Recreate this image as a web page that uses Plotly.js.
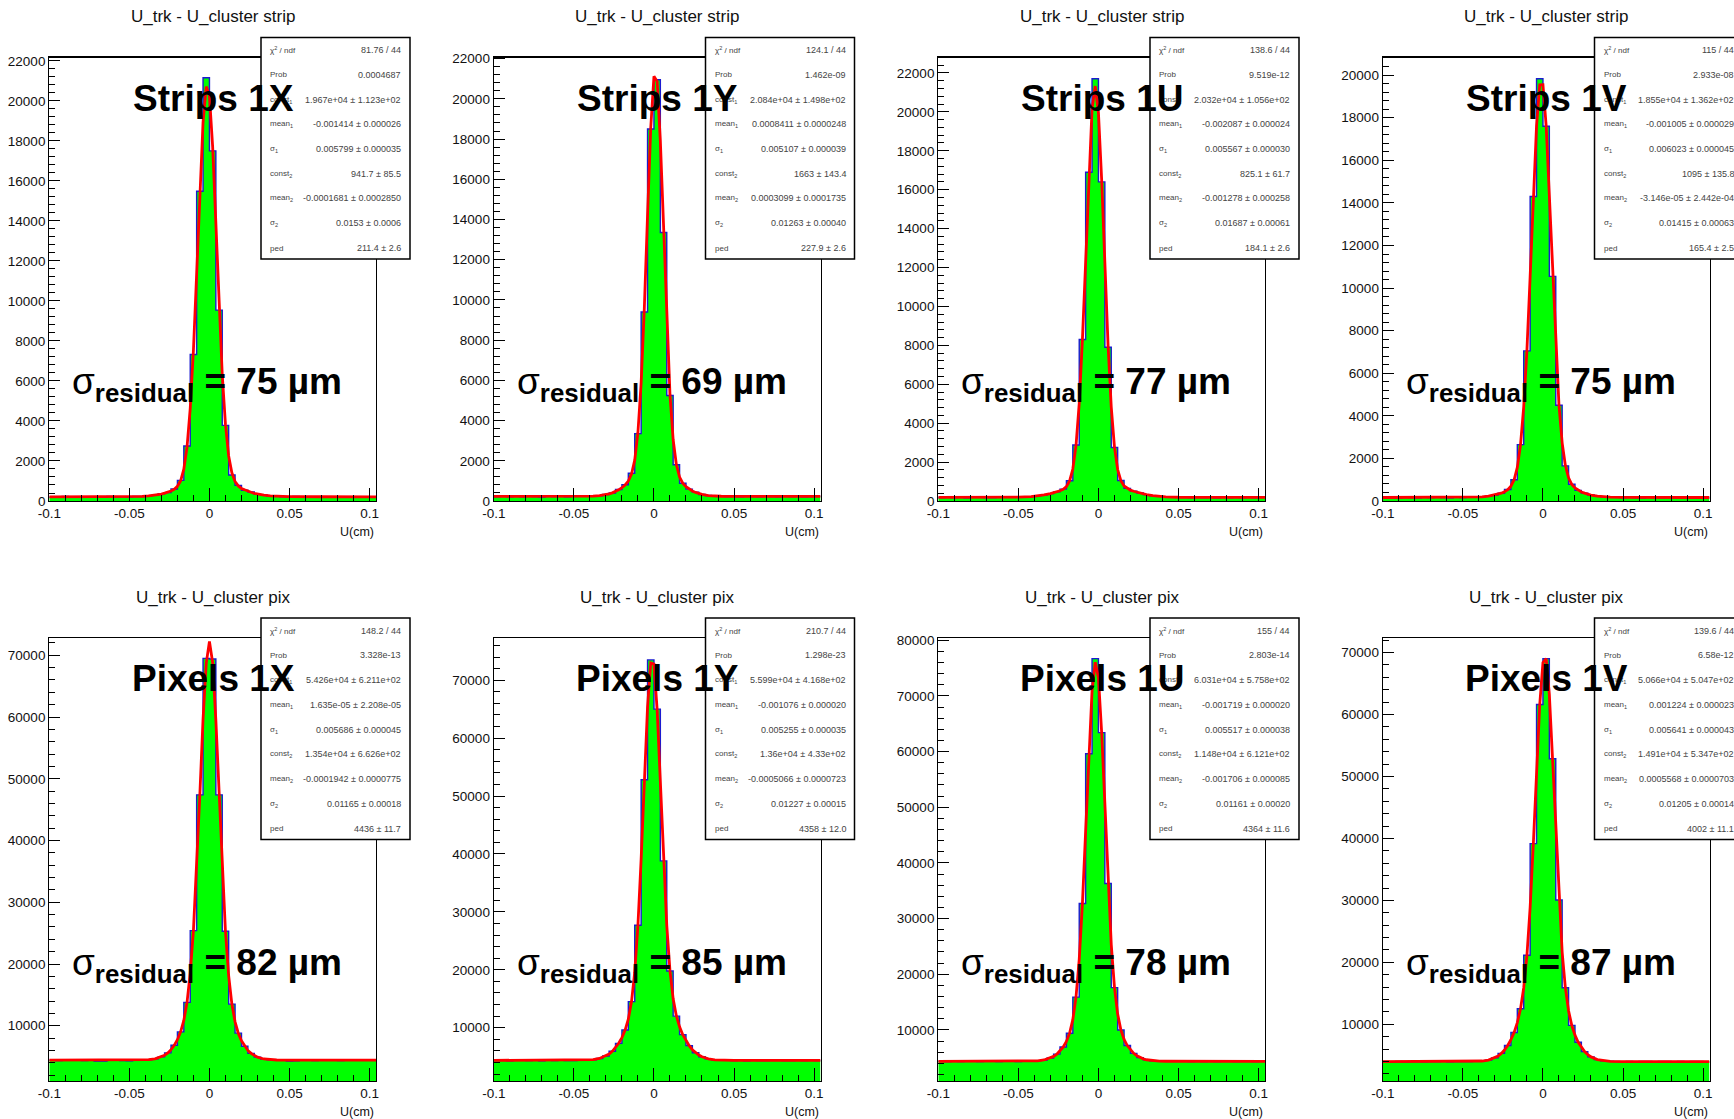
<!DOCTYPE html>
<html>
<head>
<meta charset="utf-8">
<script src="https://cdn.plot.ly/plotly-3.0.1.min.js"></script>
<style>
  html, body { margin: 0; padding: 0; background: #fff; overflow: hidden; }
  #chart { width: 1734px; height: 1119px; }
</style>
</head>
<body>
<div id="chart"></div>
<script>
// ---------------- DATA ----------------
// Histogram binning: 51 bins of width 0.004 starting at -0.1 (U in cm)
const binStart = -0.1;
const binWidth = 0.004;

const panelTitles = ["U_trk - U_cluster strip","U_trk - U_cluster strip","U_trk - U_cluster strip","U_trk - U_cluster strip",
                     "U_trk - U_cluster pix","U_trk - U_cluster pix","U_trk - U_cluster pix","U_trk - U_cluster pix"];
const panelLabels = ["Strips 1X","Strips 1Y","Strips 1U","Strips 1V","Pixels 1X","Pixels 1Y","Pixels 1U","Pixels 1V"];
const residuals = ["75","69","77","75","82","85","78","87"];

const xTickVals = [-0.1, -0.05, 0, 0.05, 0.1];
const xTickText = ["-0.1", "-0.05", "0", "0.05", "0.1"];

// bin contents (51 bins each)
const hStrips1X = [205,190,225,200,215,195,185,210,190,230,205,215,200,225,
  225,260,280,360,420,600,1030,2750,7320,15480,21150,17500,9540,3780,1300,780,540,450,330,300,250,240,
  215,200,225,190,210,200,185,215,205,195,220,200,210,195,200];
const hStrips1Y = [220,235,215,240,210,230,225,200,235,220,245,215,230,240,
  230,250,262,320,400,570,810,1380,3350,9400,18500,20950,13350,5250,1800,880,590,440,325,275,245,235,
  225,240,215,230,220,205,235,225,215,240,220,230,210,225,235];
const hStrips1U = [180,190,175,195,170,185,200,175,180,190,185,195,200,215,
  225,265,305,380,470,610,1040,2880,8300,16900,21700,16400,7900,2750,1050,650,500,410,330,270,240,210,
  200,190,185,175,190,180,185,170,190,180,185,175,190,180,185];
const hStrips1V = [160,170,155,175,165,150,170,160,175,165,155,170,165,175,
  180,195,225,280,365,540,1000,2650,7050,14300,19830,17600,10550,4500,1650,790,500,370,280,225,195,180,
  170,160,175,165,155,170,165,160,175,165,160,170,155,165,170];
const hPixels1X = [4450,4380,4520,4410,4460,4350,4430,4300,4290,4470,4420,4380,4330,4440,
  4460,4500,4640,4950,5600,6830,9000,13780,25400,47400,69500,69400,47400,25300,13500,8800,6670,5520,4910,4620,4500,4460,
  4430,4300,4310,4450,4420,4380,4460,4400,4430,4370,4450,4420,4390,4440,4430];
const hPixels1Y = [4350,4380,4300,4360,4400,4330,4370,4290,4360,4340,4380,4310,4350,4370,
  4400,4480,4690,5110,5930,7300,9600,14500,27700,52800,73500,65000,38800,19800,12000,8800,6900,5680,4980,4620,4460,4390,
  4370,4340,4360,4300,4380,4350,4330,4370,4360,4310,4350,4380,4340,4360,4350];
const hPixels1U = [4370,4340,4380,4300,4360,4390,4330,4350,4370,4310,4360,4380,4340,4370,
  4390,4450,4600,4950,5650,6920,9400,15900,32700,59600,76700,63400,36300,17600,10000,7190,5790,5030,4640,4470,4400,4370,
  4360,4350,4380,4330,4370,4300,4360,4340,4370,4350,4330,4380,4360,4340,4360];
const hPixels1V = [4010,3980,4030,3950,4000,4020,3970,4010,3990,4030,3960,4000,4020,4010,
  4030,4090,4240,4600,5320,6600,8700,12530,21150,39160,61600,69000,52860,30070,15900,9840,7120,5600,4750,4320,4120,4040,
  4010,3990,4020,3980,4000,4030,3960,4010,4000,3980,4020,3990,4010,4000,3990];

// fitted curve
const fitX = [-0.1,-0.07,-0.05,-0.042,-0.038,-0.034,
  -0.030,-0.028,-0.026,-0.024,-0.022,-0.020,-0.018,-0.016,-0.014,-0.012,-0.010,-0.008,-0.006,-0.004,-0.002,
  0,0.002,0.004,0.006,0.008,0.010,0.012,0.014,0.016,0.018,0.020,0.022,0.024,0.026,0.028,0.030,
  0.034,0.038,0.042,0.05,0.07,0.104];
const fStrips1X = [211,212,217,232,254,291,
  348,391,436,501,587,734,1008,1594,2690,4628,7534,11360,15443,18928,20712,
  20246,17708,13842,9801,6299,3829,2254,1411,966,754,628,559,481,436,385,348,
  291,254,232,217,212,211];
const fStrips1Y = [228,228,230,235,244,266,
  315,355,406,473,557,661,797,991,1339,2030,3407,5867,9598,14204,18550,
  21117,20868,17908,13399,8854,5312,3046,1803,1190,883,709,587,497,425,369,327,
  271,246,235,229,228,228];
const fStrips1U = [184,185,196,228,261,309,
  377,419,466,525,604,744,1029,1643,2859,5019,8306,12508,16848,20154,21326,
  19948,16515,12145,8008,4828,2768,1617,1042,776,643,557,502,453,405,367,328,
  273,236,213,192,184,184];
const fStrips1V = [165,165,168,178,195,226,
  281,319,368,439,534,698,999,1579,2643,4436,7084,10541,14318,17616,19547,
  19552,17629,14349,10589,7163,4506,2731,1669,1086,780,609,505,424,368,319,281,
  226,195,178,168,165,165];
const fPixels1X = [4436,4436,4437,4455,4504,4638,
  4951,5220,5601,6118,6826,7743,9007,10862,13781,18524,25416,35419,47396,59646,68726,
  72234,68826,59506,47386,35179,25266,18119,13511,10632,8792,7568,6666,6003,5521,5160,4910,
  4616,4498,4455,4437,4436,4436];
const fPixels1Y = [4358,4358,4362,4398,4484,4686,
  5114,5462,5929,6537,7311,8293,9590,11473,14505,19580,27678,39106,52771,65344,72990,
  72777,64872,52174,38802,27665,19847,14986,12040,10152,8798,7742,6892,6201,5677,5276,4977,
  4620,4457,4390,4360,4358,4358];
const fPixels1U = [4364,4364,4370,4392,4450,4604,
  4952,5247,5649,6197,6923,7924,9413,11841,15944,22659,32694,45718,59584,70911,76060,
  73241,63435,49880,36339,25324,17645,12847,10014,8306,7188,6395,5793,5354,5030,4800,4641,
  4466,4397,4373,4366,4364,4364];
const fPixels1V = [4000,4000,4004,4029,4089,4244,
  4598,4900,5317,5868,6597,7523,8704,10283,12528,15911,21148,28898,39160,50861,61597,
  68374,68984,63194,52865,40950,30066,21671,15897,12194,9836,8255,7121,6260,5606,5115,4753,
  4317,4118,4040,4006,4000,4000];

// y axis ranges
const yRanges = [[0,22165],[0,22055],[0,22794],[0,20829],[1050,72800],[800,77284],[826,80400],[865,72330]];

// fit-statistics boxes
const statNames = ["χ<sup>2</sup> / ndf","Prob","const<sub>1</sub>","mean<sub>1</sub>","σ<sub>1</sub>",
                   "const<sub>2</sub>","mean<sub>2</sub>","σ<sub>2</sub>","ped"];
const statsStrips1X = ["81.76 / 44","0.0004687","1.967e+04 ± 1.123e+02","-0.001414 ± 0.000026","0.005799 ± 0.000035","941.7 ± 85.5","-0.0001681 ± 0.0002850","0.0153 ± 0.0006","211.4 ± 2.6"];
const statsStrips1Y = ["124.1 / 44","1.462e-09","2.084e+04 ± 1.498e+02","0.0008411 ± 0.0000248","0.005107 ± 0.000039","1663 ± 143.4","0.0003099 ± 0.0001735","0.01263 ± 0.00040","227.9 ± 2.6"];
const statsStrips1U = ["138.6 / 44","9.519e-12","2.032e+04 ± 1.056e+02","-0.002087 ± 0.000024","0.005567 ± 0.000030","825.1 ± 61.7","-0.001278 ± 0.000258","0.01687 ± 0.00061","184.1 ± 2.6"];
const statsStrips1V = ["115 / 44","2.933e-08","1.855e+04 ± 1.362e+02","-0.001005 ± 0.000029","0.006023 ± 0.000045","1095 ± 135.8","-3.146e-05 ± 2.442e-04","0.01415 ± 0.00063","165.4 ± 2.5"];
const statsPixels1X = ["148.2 / 44","3.328e-13","5.426e+04 ± 6.211e+02","1.635e-05 ± 2.208e-05","0.005686 ± 0.000045","1.354e+04 ± 6.626e+02","-0.0001942 ± 0.0000775","0.01165 ± 0.00018","4436 ± 11.7"];
const statsPixels1Y = ["210.7 / 44","1.298e-23","5.599e+04 ± 4.168e+02","-0.001076 ± 0.000020","0.005255 ± 0.000035","1.36e+04 ± 4.33e+02","-0.0005066 ± 0.0000723","0.01227 ± 0.00015","4358 ± 12.0"];
const statsPixels1U = ["155 / 44","2.803e-14","6.031e+04 ± 5.758e+02","-0.001719 ± 0.000020","0.005517 ± 0.000038","1.148e+04 ± 6.121e+02","-0.001706 ± 0.000085","0.01161 ± 0.00020","4364 ± 11.6"];
const statsPixels1V = ["139.6 / 44","6.58e-12","5.066e+04 ± 5.047e+02","0.001224 ± 0.000023","0.005641 ± 0.000043","1.491e+04 ± 5.347e+02","0.0005568 ± 0.0000703","0.01205 ± 0.00014","4002 ± 11.1"];

// ---------------- BUILD ----------------
const hists = [hStrips1X,hStrips1Y,hStrips1U,hStrips1V,hPixels1X,hPixels1Y,hPixels1U,hPixels1V];
const fits  = [fStrips1X,fStrips1Y,fStrips1U,fStrips1V,fPixels1X,fPixels1Y,fPixels1U,fPixels1V];
const stats = [statsStrips1X,statsStrips1Y,statsStrips1U,statsStrips1V,statsPixels1X,statsPixels1Y,statsPixels1U,statsPixels1V];

const W = 1734, H = 1119;
const FONT = "Liberation Sans, Arial, Helvetica, sans-serif";
const px = v => v / W;
const py = v => 1 - v / H;

const traces = [];
const layout = {
  width: W, height: H,
  margin: {l:0, r:0, t:0, b:0},
  paper_bgcolor: "#ffffff", plot_bgcolor: "#ffffff",
  showlegend: false,
  font: {family: FONT, color: "#000"},
  shapes: [], annotations: []
};

for (let k = 0; k < 8; k++) {
  const r = Math.floor(k / 4), c = k % 4;
  const n = k + 1;
  const L = 49.3 + 444.5 * c, R = L + 326.7;
  const T = r ? 638 : 57.5, B = r ? 1081 : 501;
  const xa = "x" + (n === 1 ? "" : n), ya = "y" + (n === 1 ? "" : n);
  const xk = "xaxis" + (n === 1 ? "" : n), yk = "yaxis" + (n === 1 ? "" : n);

  const h = hists[k];
  const ex = [], ey = [];
  for (let i = 0; i < h.length; i++) { ex.push(binStart + i * binWidth); ey.push(h[i]); }
  ex.push(binStart + h.length * binWidth); ey.push(h[h.length - 1]);

  traces.push({type:"scatter", mode:"lines", x: ex, y: ey, xaxis: xa, yaxis: ya,
    line: {shape:"hv", color:"#1a1ad0", width:1.4}, fill:"tozeroy", fillcolor:"#00ff00", hoverinfo:"skip"});
  traces.push({type:"scatter", mode:"lines", x: fitX, y: fits[k], xaxis: xa, yaxis: ya,
    line: {color:"#ff0000", width:2.8}, hoverinfo:"skip"});

  layout[xk] = {
    domain: [px(L), px(R)], anchor: ya, range: [-0.1, 0.104],
    tickmode: "array", tickvals: xTickVals, ticktext: xTickText,
    ticks: "inside", ticklen: 13, tickwidth: 1, tickcolor: "#000",
    minor: {dtick: 0.01, tick0: 0, ticks: "inside", ticklen: 6, tickwidth: 1, tickcolor: "#000"},
    showline: true, mirror: true, linecolor: "#000", linewidth: 1.2,
    showgrid: false, zeroline: false,
    tickfont: {family: FONT, size: 13.5, color: "#111"}, fixedrange: true
  };
  const big = r === 1;
  layout[yk] = {
    domain: [py(B), py(T)], anchor: xa, range: yRanges[k],
    tickmode: "linear", tick0: 0, dtick: big ? 10000 : 2000, tickformat: "d",
    ticks: "inside", ticklen: 11, tickwidth: 1, tickcolor: "#000",
    minor: {dtick: big ? 2000 : 400, tick0: 0, ticks: "inside", ticklen: 6, tickwidth: 1, tickcolor: "#000"},
    showline: true, mirror: true, linecolor: "#000", linewidth: 1.2,
    showgrid: false, zeroline: false,
    tickfont: {family: FONT, size: 13.5, color: "#111"}, fixedrange: true
  };

  // title
  layout.annotations.push({xref:"paper", yref:"paper", x: px(L + 163.5), y: py(r ? 598 : 16.6),
    xanchor:"center", yanchor:"middle", showarrow:false, text: panelTitles[k],
    font:{family: FONT, size: 17, color:"#111"}});
  // x axis label
  layout.annotations.push({xref:"paper", yref:"paper", x: px(R), y: py(r ? 1112 : 532),
    xanchor:"right", yanchor:"middle", showarrow:false, text:"U(cm)",
    font:{family: FONT, size: 12.5, color:"#111"}});

  // stats box
  const sx0 = L + 211.7, sx1 = L + 360.7;
  const sy0 = r ? 618 : 37.5, sy1 = r ? 839.5 : 259;
  layout.shapes.push({type:"rect", xref:"paper", yref:"paper", x0: px(sx0), x1: px(sx1), y0: py(sy1), y1: py(sy0),
    line:{color:"#000", width:1.5}, fillcolor:"#ffffff", layer:"above"});
  for (let j = 0; j < statNames.length; j++) {
    const yy = sy0 + 12.5 + 24.75 * j;
    layout.annotations.push({xref:"paper", yref:"paper", x: px(sx0 + 7), y: py(yy),
      xanchor:"left", yanchor:"middle", showarrow:false, text: statNames[j],
      font:{family: FONT, size: 8, color:"#444"}});
    layout.annotations.push({xref:"paper", yref:"paper", x: px(sx1 - 7), y: py(yy),
      xanchor:"right", yanchor:"middle", showarrow:false, text: stats[k][j],
      font:{family: FONT, size: 9, color:"#444"}});
  }

  // big labels
  layout.annotations.push({xref:"paper", yref:"paper", x: px(L + 164), y: py((r ? 580.5 : 0) + 98.4),
    xanchor:"center", yanchor:"middle", showarrow:false, text: "<b>" + panelLabels[k] + "</b>",
    font:{family: FONT, size: 37, color:"#000"}});
  layout.annotations.push({xref:"paper", yref:"paper", x: px(L + 20.7), y: py((r ? 580.5 : 0) + 384),
    xanchor:"left", yanchor:"middle", showarrow:false,
    text: "σ<b><sub>residual</sub> = " + residuals[k] + " µm</b>",
    font:{family: FONT, size: 37, color:"#000"}});
}

Plotly.newPlot("chart", traces, layout, {staticPlot: true, displayModeBar: false});
</script>
</body>
</html>
